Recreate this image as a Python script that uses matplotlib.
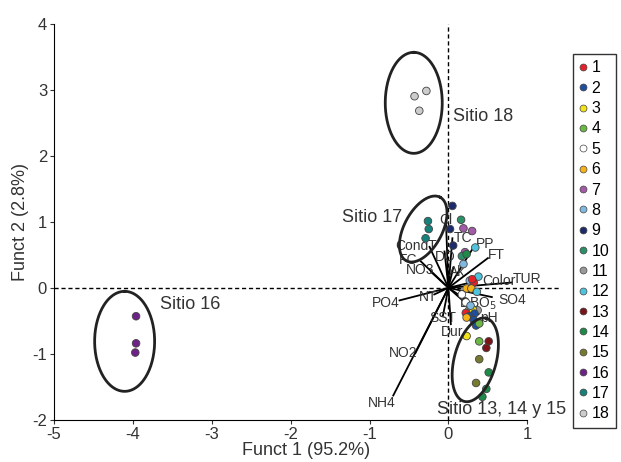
import numpy as np
import matplotlib.pyplot as plt
from matplotlib.lines import Line2D

plt.rcParams['font.family'] = ['Liberation Sans', 'DejaVu Sans']
plt.rcParams['axes.unicode_minus'] = False

# site colours (legend 1..18)
site_colors = ['#e8202a', '#1f4e9c', '#f2e21a', '#6bb744', '#ffffff', '#f6b21b',
               '#a35ba8', '#7fb9e0', '#1d2b6b', '#2a9068', '#999999', '#4fc3dc',
               '#7a1418', '#1e8a4a', '#767a2e', '#6e2288', '#16817a', '#cccccc']

# discriminant scores: site, funct 1, funct 2
site = [9, 10, 9, 7, 7, 9, 12, 7, 10, 14, 8, 12, 8, 1, 1, 6, 6, 12, 5, 5,
        11, 11, 3, 8, 2, 1, 2, 6, 2, 2, 4, 3, 4, 13, 13, 15, 14, 15, 14, 14,
        16, 16, 16, 17, 17, 17, 18, 18, 18]
f1 = [0.05, 0.16, 0.02, 0.19, 0.30, 0.06, 0.34, 0.21, 0.17, 0.23, 0.19, 0.38, 0.27, 0.32, 0.30,
      0.23, 0.29, 0.36, 0.17, 0.22, 0.26, 0.37, 0.31, 0.28, 0.33, 0.22, 0.26, 0.23, 0.32, 0.35,
      0.39, 0.23, 0.39, 0.51, 0.48, 0.39, 0.51, 0.35, 0.48, 0.43,
      -3.96, -3.96, -3.97, -0.26, -0.25, -0.29, -0.43, -0.28, -0.37]
f2 = [1.24, 1.03, 0.89, 0.90, 0.86, 0.64, 0.61, 0.54, 0.48, 0.51, 0.36, 0.17, 0.11, 0.08, 0.13,
      -0.01, -0.01, -0.06, -0.10, -0.22, -0.34, -0.34, -0.33, -0.27, -0.39, -0.38, -0.43, -0.45, -0.49, -0.57,
      -0.54, -0.73, -0.81, -0.81, -0.91, -1.08, -1.28, -1.44, -1.53, -1.65,
      -0.43, -0.84, -0.98, 1.01, 0.89, 0.75, 2.90, 2.98, 2.68]

# variable vectors: name, end x, end y, label x, label y
var_names = ['NH4', 'NO2', 'PO4', 'NT', 'SST', 'Dur', 'pH', 'DBO$_5$', 'SO4', 'TUR',
             'Color', 'FT', 'PP', 'TC', 'Cl', 'DO', 'Ak', 'NO3', 'FC', 'CondT']
var_x = [-0.70, -0.42, -0.62, -0.18, -0.07, 0.03, 0.38, 0.22, 0.55, 0.80,
         0.35, 0.50, 0.30, 0.05, -0.03, -0.05, 0.06, -0.22, -0.35, -0.24]
var_y = [-1.63, -0.99, -0.19, -0.10, -0.42, -0.55, -0.40, -0.18, -0.14, 0.08,
         0.10, 0.45, 0.58, 0.75, 0.95, 0.55, 0.30, 0.24, 0.40, 0.62]
lab_x = [-0.85, -0.58, -0.80, -0.26, -0.07, 0.05, 0.52, 0.37, 0.81, 1.0,
         0.64, 0.61, 0.46, 0.18, -0.03, -0.04, 0.11, -0.36, -0.51, -0.41]
lab_y = [-1.74, -0.98, -0.23, -0.14, -0.46, -0.67, -0.46, -0.24, -0.19, 0.13,
         0.11, 0.49, 0.67, 0.75, 1.02, 0.47, 0.24, 0.27, 0.42, 0.63]

# group ellipses: centre (data), half axes in pixels, tilt (deg on screen)
ell_cx = [-4.105, -0.44, -0.32, 0.34]
ell_cy = [-0.81, 2.80, 0.89, -1.09]
ell_a = [50, 50.5, 36, 43]
ell_b = [30, 28.5, 19, 21]
ell_tilt = [90, 90, 62, 75]

fig = plt.figure(figsize=(6.21, 4.62), dpi=100)
ax = fig.add_axes([0.087, 0.091, 0.813, 0.858])
ax.set_xlim(-5, 1.4)
ax.set_ylim(-2, 4)

ax.axhline(0, color='black', lw=1, ls=(0, (3, 2)), zorder=1)
ax.axvline(0, color='black', lw=1, ls=(0, (3, 2)), zorder=1)

for n, vx, vy, lx, ly in zip(var_names, var_x, var_y, lab_x, lab_y):
    ax.plot([0, vx], [0, vy], color='black', lw=1.3, zorder=2)
    ax.text(lx, ly, n, fontsize=10, ha='center', va='center', color='#333333', zorder=3)

ax.scatter(f1, f2, c=[site_colors[s - 1] for s in site], s=30,
           edgecolors='#444444', linewidths=0.6, zorder=4)

# pixels per data unit, to draw the tilted ellipses round on screen
bbox = ax.get_position()
sx = bbox.width * 621 / 6.4
sy = bbox.height * 462 / 6.0
t = np.linspace(0, 2 * np.pi, 200)
for cx, cy, a, b, tilt in zip(ell_cx, ell_cy, ell_a, ell_b, ell_tilt):
    p = np.radians(tilt)
    ex = cx + (a * np.cos(t) * np.cos(p) - b * np.sin(t) * np.sin(p)) / sx
    ey = cy + (a * np.cos(t) * np.sin(p) + b * np.sin(t) * np.cos(p)) / sy
    ax.plot(ex, ey, color='#222222', lw=2, zorder=5)

ax.text(-3.66, -0.25, 'Sitio 16', fontsize=13, va='center', color='#333333')
ax.text(0.06, 2.60, 'Sitio 18', fontsize=13, va='center', color='#333333')
ax.text(-1.35, 1.07, 'Sitio 17', fontsize=13, va='center', color='#333333')
ax.text(-0.14, -1.84, 'Sitio 13, 14 y 15', fontsize=13, va='center', color='#333333')

ax.spines['top'].set_visible(False)
ax.spines['right'].set_visible(False)
ax.spines['bottom'].set_bounds(-5, 1)
ax.spines['left'].set_bounds(-2, 4)
ax.set_xticks(range(-5, 2))
ax.set_yticks(range(-2, 5))
ax.tick_params(labelsize=12, length=3, pad=2, colors='#333333')
ax.set_xlabel('Funct 1 (95.2%)', fontsize=13, color='#333333', labelpad=0)
ax.set_ylabel('Funct 2 (2.8%)', fontsize=13, color='#333333', labelpad=2)

handles = [Line2D([], [], ls='none', marker='o', markersize=5, markerfacecolor=c,
                  markeredgecolor='#444444', markeredgewidth=0.5) for c in site_colors]
leg = fig.legend(handles, [str(i) for i in range(1, 19)], loc='upper left',
                 bbox_to_anchor=(0.9227, 0.883), fontsize=11.5, frameon=True, fancybox=False,
                 handlelength=0.5, handletextpad=0.25, labelspacing=0.335, borderpad=0.4,
                 borderaxespad=0)
leg.get_frame().set_edgecolor('black')
leg.get_frame().set_linewidth(1)

fig.savefig('out.png', dpi=100)
